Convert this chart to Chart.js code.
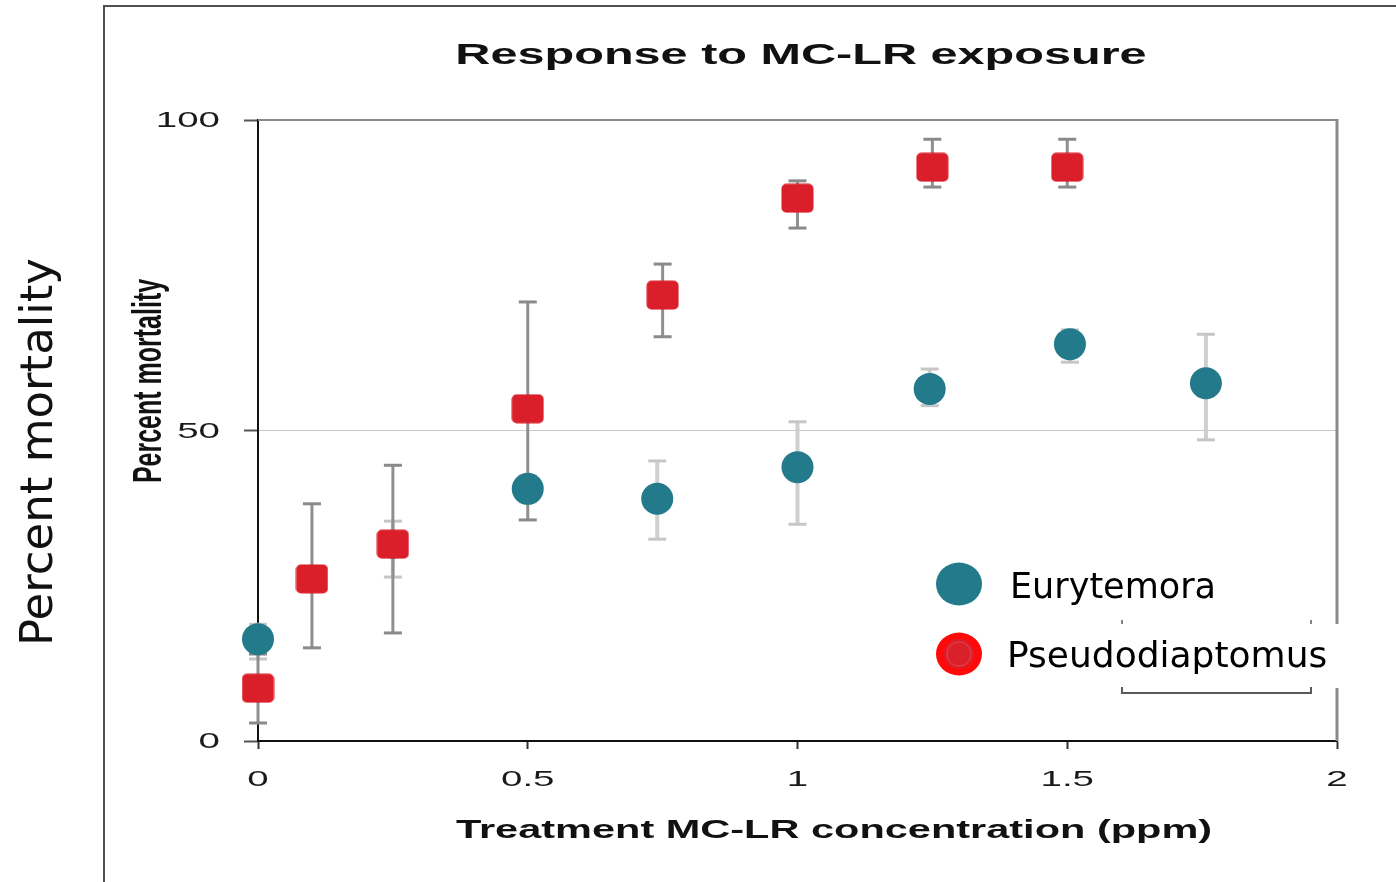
<!DOCTYPE html>
<html><head><meta charset="utf-8">
<script src="https://cdn.jsdelivr.net/npm/chart.js@4.4.1/dist/chart.umd.min.js"></script>
<style>html,body{margin:0;padding:0;background:#fff;}canvas{display:block;}</style>
</head><body>
<canvas id="c" width="1396" height="882"></canvas>
<script>
// ---- text ----
const chartTitle = 'Response to MC-LR exposure';
const xAxisTitle = 'Treatment MC-LR concentration (ppm)';
const yAxisTitle = 'Percent mortality';
const outerYLabel = 'Percent mortality';
const seriesNames = ['Eurytemora', 'Pseudodiaptomus'];

// ---- ticks ----
const xTickValues = [0, 0.5, 1, 1.5, 2];
const xTickLabels = ['0', '0.5', '1', '1.5', '2'];
const yTickValues = [0, 50, 100];
const yTickLabels = ['0', '50', '100'];

// ---- Eurytemora ----
const euryX    = [0,    0.25, 0.5,  0.74, 1.0,  1.245, 1.505, 1.757];
const euryY    = [16.4, 31.6, 40.6, 39.0, 44.1, 56.7,  63.9,  57.6];
const euryLow  = [13.2, 26.4, 38.5, 32.5, 34.9, 54.0,  61.0,  48.5];
const euryHigh = [18.8, 35.4, 42.7, 45.1, 51.4, 59.9,  66.2,  65.5];

// ---- Pseudodiaptomus ----
const pseuX    = [0,    0.1,  0.25, 0.5,  0.75, 1.0,  1.25, 1.5];
const pseuY    = [8.5,  26.1, 31.7, 53.5, 71.8, 87.4, 92.4, 92.4];
const pseuLow  = [2.9,  15.0, 17.4, 35.6, 65.1, 82.6, 89.2, 89.2];
const pseuHigh = [14.0, 38.2, 44.4, 70.7, 76.8, 90.2, 96.9, 96.9];

const TEAL = '#237a8b';
const RED = '#db1f2a';

// rounded square marker
const sq = document.createElement('canvas');
sq.width = 33; sq.height = 30;
(function(){
  const g = sq.getContext('2d');
  g.fillStyle = RED;
  g.beginPath();
  if (g.roundRect) g.roundRect(0.5, 0.5, 32, 29, 5); else g.rect(0.5,0.5,32,29);
  g.fill();
})();

function stretchText(ctx, text, x, y, sx, align, baseline, font, color) {
  ctx.save();
  ctx.font = font; ctx.fillStyle = color;
  ctx.textAlign = align; ctx.textBaseline = baseline;
  ctx.translate(x, y); ctx.scale(sx, 1);
  ctx.fillText(text, 0, 0);
  ctx.restore();
}
function line(ctx, x1, y1, x2, y2) {
  ctx.beginPath(); ctx.moveTo(x1, y1); ctx.lineTo(x2, y2); ctx.stroke();
}

const errorBars = {
  id: 'errorBars',
  beforeDatasetsDraw(chart) {
    const { ctx, scales: { x, y } } = chart;
    function draw(xs, lo, hi, barCol, capCol, bw) {
      ctx.save();
      for (let i = 0; i < xs.length; i++) {
        const px = x.getPixelForValue(xs[i]);
        const p1 = y.getPixelForValue(lo[i]);
        const p2 = y.getPixelForValue(hi[i]);
        ctx.strokeStyle = barCol; ctx.lineWidth = bw;
        line(ctx, px, p1, px, p2);
        ctx.strokeStyle = capCol; ctx.lineWidth = 3;
        line(ctx, px - 9, p1, px + 9, p1);
        line(ctx, px - 9, p2, px + 9, p2);
      }
      ctx.restore();
    }
    draw(euryX, euryLow, euryHigh, '#cfcfcf', '#c6c6c6', 4);
    draw(pseuX, pseuLow, pseuHigh, '#8f8f8f', '#8a8a8a', 3);
  }
};

const decorations = {
  id: 'decorations',
  beforeDraw(chart) {
    const { ctx } = chart;
    ctx.save();
    ctx.fillStyle = '#fff';
    ctx.fillRect(0, 0, chart.width, chart.height);
    ctx.restore();
  },
  afterDraw(chart) {
    const { ctx, chartArea: a, scales: { x, y } } = chart;
    ctx.save();
    // outer frame
    ctx.strokeStyle = '#505050'; ctx.lineWidth = 2;
    line(ctx, 104, 6, 104, chart.height);
    line(ctx, 103, 6, chart.width, 6);
    // plot top and right borders
    ctx.strokeStyle = '#8a8a8a'; ctx.lineWidth = 2;
    line(ctx, a.left, a.top, a.right, a.top);
    ctx.lineWidth = 3;
    line(ctx, a.right, a.top - 1, a.right, a.bottom);
    ctx.restore();

    // title
    stretchText(ctx, chartTitle, 801, 64, 1.62, 'center', 'alphabetic', 'bold 30px "Liberation Sans", Arial, sans-serif', '#111');
    // x axis title
    stretchText(ctx, xAxisTitle, 834, 838, 1.66, 'center', 'alphabetic', 'bold 25px "Liberation Sans", Arial, sans-serif', '#111');

    // tick labels
    for (let i = 0; i < yTickValues.length; i++) {
      stretchText(ctx, yTickLabels[i], 220, y.getPixelForValue(yTickValues[i]) + 1, 1.75, 'right', 'middle', '22px "Liberation Sans", Arial, sans-serif', '#1a1a1a');
    }
    for (let i = 0; i < xTickValues.length; i++) {
      stretchText(ctx, xTickLabels[i], x.getPixelForValue(xTickValues[i]), 780, 1.75, 'center', 'middle', '22px "Liberation Sans", Arial, sans-serif', '#1a1a1a');
    }

    // inner y title (stretched, rotated)
    ctx.save();
    ctx.font = 'bold 25px "Liberation Sans", Arial, sans-serif';
    ctx.fillStyle = '#111'; ctx.textAlign = 'center'; ctx.textBaseline = 'alphabetic';
    ctx.translate(161, 381); ctx.scale(1.6, 1); ctx.rotate(-Math.PI / 2);
    ctx.fillText(yAxisTitle, 0, 0);
    ctx.restore();

    // outer big y label
    ctx.save();
    ctx.font = '45px "DejaVu Sans", sans-serif';
    ctx.fillStyle = '#111'; ctx.textAlign = 'center'; ctx.textBaseline = 'alphabetic';
    ctx.translate(52, 452); ctx.rotate(-Math.PI / 2);
    ctx.fillText(outerYLabel, 0, 0);
    ctx.restore();

    // legend background box
    ctx.save();
    ctx.fillStyle = '#fff';
    ctx.fillRect(995, 624, 352, 64);
    // bracket remnants
    ctx.strokeStyle = '#5a5a5a'; ctx.lineWidth = 2;
    line(ctx, 1122, 693, 1311, 693);
    line(ctx, 1122, 687, 1122, 694);
    line(ctx, 1311, 687, 1311, 694);
    ctx.lineWidth = 1.5;
    line(ctx, 1122, 620, 1122, 624);
    line(ctx, 1311, 620, 1311, 624);
    // legend markers
    ctx.fillStyle = TEAL;
    ctx.beginPath(); ctx.ellipse(959, 584, 23, 21.5, 0, 0, Math.PI * 2); ctx.fill();
    ctx.fillStyle = '#ff0a0a';
    ctx.beginPath(); ctx.ellipse(959, 654, 23, 21.5, 0, 0, Math.PI * 2); ctx.fill();
    ctx.fillStyle = '#d9202b';
    ctx.beginPath(); ctx.arc(959, 654, 15, 0, Math.PI * 2); ctx.fill();
    ctx.strokeStyle = '#e8464e'; ctx.lineWidth = 1;
    ctx.beginPath(); ctx.arc(959, 654, 12, 0, Math.PI * 2); ctx.stroke();
    // legend text
    ctx.fillStyle = '#000';
    ctx.textAlign = 'left'; ctx.textBaseline = 'alphabetic';
    ctx.font = '35px "DejaVu Sans", sans-serif';
    ctx.fillText(seriesNames[0], 1010, 598);
    ctx.font = '36px "DejaVu Sans", sans-serif';
    ctx.fillText(seriesNames[1], 1007, 667);
    ctx.restore();
  }
};

new Chart(document.getElementById('c'), {
  type: 'scatter',
  data: {
    datasets: [
      {
        label: seriesNames[0],
        data: euryX.map((v, i) => ({ x: v, y: euryY[i] })),
        pointStyle: 'circle',
        pointRadius: c => (c.dataIndex === 1 ? 14 : 16),
        pointBackgroundColor: TEAL,
        pointBorderWidth: 0, order: 2, clip: false
      },
      {
        label: seriesNames[1],
        data: pseuX.map((v, i) => ({ x: v, y: pseuY[i] })),
        pointStyle: sq, pointRadius: 16, pointBorderWidth: 0, order: 1, clip: false
      }
    ]
  },
  options: {
    responsive: false, animation: false, events: [],
    layout: { padding: { top: 120, right: 59, left: 0, bottom: 0 } },
    plugins: { legend: { display: false }, title: { display: false }, tooltip: { enabled: false } },
    scales: {
      x: {
        type: 'linear', min: 0, max: 2,
        ticks: { display: false, stepSize: 0.5 },
        grid: { drawOnChartArea: false, drawTicks: true, tickLength: 8, tickColor: '#333', tickWidth: 2 },
        border: { color: '#111', width: 2 },
        afterFit(s) { s.height = 141; }
      },
      y: {
        min: 0, max: 100,
        ticks: { display: false, stepSize: 50 },
        grid: {
          color: c => (c.tick && c.tick.value === 50) ? '#c9c9c9' : 'rgba(0,0,0,0)',
          tickColor: '#555', tickLength: 14, lineWidth: 1, tickWidth: 2
        },
        border: { color: '#111', width: 2 },
        afterFit(s) { s.width = 258; }
      }
    }
  },
  plugins: [errorBars, decorations]
});
</script>
</body></html>
